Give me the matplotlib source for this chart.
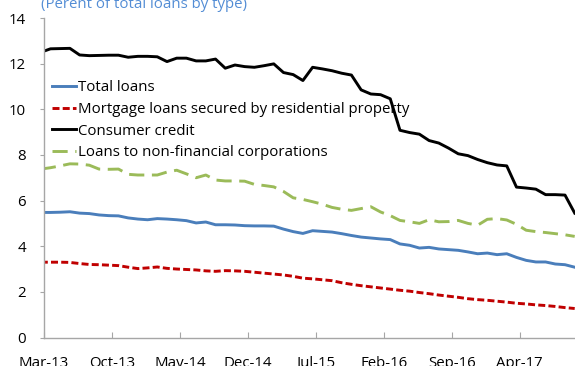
import numpy as np
import matplotlib
matplotlib.use("Agg")
import matplotlib.pyplot as plt

plt.rcParams['font.family'] = ['Open Sans', 'DejaVu Sans']

# Monthly observations, Feb-13 .. Sep-17 (first one lies just left of the axis)
months = [f"{m}-{y:02d}" for y in range(13, 18) for m in
          ["Jan", "Feb", "Mar", "Apr", "May", "Jun", "Jul", "Aug", "Sep", "Oct", "Nov", "Dec"]][1:57]

total_loans = [5.48, 5.48, 5.49, 5.51, 5.45, 5.43, 5.37, 5.34, 5.33, 5.24, 5.19, 5.16, 5.21, 5.19,
               5.16, 5.12, 5.02, 5.06, 4.94, 4.94, 4.93, 4.90, 4.89, 4.89, 4.88, 4.75, 4.64, 4.56,
               4.68, 4.65, 4.62, 4.55, 4.47, 4.40, 4.36, 4.32, 4.29, 4.10, 4.04, 3.92, 3.95, 3.88,
               3.85, 3.82, 3.75, 3.67, 3.70, 3.63, 3.67, 3.51, 3.38, 3.31, 3.31, 3.22, 3.19, 3.08]
mortgage = [3.30, 3.30, 3.30, 3.29, 3.24, 3.20, 3.19, 3.17, 3.15, 3.08, 3.02, 3.05, 3.09, 3.03,
            3.00, 2.98, 2.96, 2.92, 2.90, 2.93, 2.92, 2.90, 2.86, 2.82, 2.78, 2.74, 2.68, 2.60,
            2.57, 2.53, 2.49, 2.40, 2.33, 2.27, 2.22, 2.17, 2.12, 2.07, 2.03, 1.97, 1.92, 1.86,
            1.81, 1.76, 1.70, 1.66, 1.63, 1.59, 1.55, 1.50, 1.47, 1.43, 1.40, 1.36, 1.31, 1.27]
consumer = [12.50, 12.65, 12.66, 12.67, 12.38, 12.35, 12.36, 12.37, 12.37, 12.28, 12.32, 12.32,
            12.30, 12.09, 12.24, 12.24, 12.12, 12.12, 12.20, 11.80, 11.94, 11.87, 11.84, 11.91,
            11.99, 11.61, 11.52, 11.26, 11.84, 11.77, 11.69, 11.58, 11.50, 10.85, 10.67, 10.64,
            10.46, 9.08, 8.98, 8.91, 8.63, 8.52, 8.30, 8.05, 7.97, 7.80, 7.66, 7.56, 7.52, 6.59,
            6.55, 6.50, 6.26, 6.26, 6.24, 5.45]
nfc = [7.38, 7.44, 7.52, 7.61, 7.60, 7.55, 7.38, 7.37, 7.38, 7.15, 7.12, 7.12, 7.12, 7.25, 7.33,
       7.17, 7.00, 7.12, 6.90, 6.86, 6.86, 6.85, 6.71, 6.66, 6.60, 6.40, 6.12, 6.05, 5.95, 5.84,
       5.70, 5.62, 5.57, 5.65, 5.73, 5.50, 5.34, 5.13, 5.07, 5.00, 5.16, 5.07, 5.08, 5.13, 5.00,
       4.92, 5.18, 5.21, 5.15, 4.96, 4.70, 4.64, 4.60, 4.55, 4.50, 4.43]

tick_labels = ["Mar-13", "Oct-13", "May-14", "Dec-14", "Jul-15", "Feb-16", "Sep-16", "Apr-17"]
title = "(Perent of total loans by type)"

# x position in months from Mar-13 (observations sit ~2/3 month after the month tick)
x = np.arange(len(months)) - 1 + 0.67
tick_pos = [months.index(t) - 1 for t in tick_labels]

fig = plt.figure(figsize=(5.75, 3.66), dpi=100)
ax = fig.add_axes([44 / 575, (366 - 337.5) / 366, 1 - 44 / 575, (337.5 - 18) / 366])

ax.plot(x, total_loans, color='#4A7EBB', lw=2.1, label='Total loans')
ax.plot(x, mortgage, color='#C00000', lw=2.1, dashes=(2.4, 1.1),
        label='Mortgage loans secured by residential property')
ax.plot(x, consumer, color='black', lw=2.1, label='Consumer credit')
ax.plot(x, nfc, color='#9BBB59', lw=2.1, dashes=(5.2, 2.6),
        label='Loans to non-financial corporations')

ax.set_ylim(0, 14)
ax.set_xlim(0, 54.7)
ax.set_yticks(range(0, 15, 2))
ax.set_xticks(tick_pos)
ax.set_xticklabels(tick_labels)

for s in ['top', 'right']:
    ax.spines[s].set_visible(False)
for s in ['left', 'bottom']:
    ax.spines[s].set_color('#A6A6A6')
    ax.spines[s].set_linewidth(1.0)

ax.tick_params(axis='y', direction='out', length=3, width=0.8, color='#A6A6A6',
               labelsize=10.8, pad=10, labelcolor='black')
ax.tick_params(axis='x', direction='in', length=4, width=0.8, color='#A6A6A6',
               labelsize=10.8, pad=13, labelcolor='black')

leg = ax.legend(loc='upper left', bbox_to_anchor=(0.0, 0.829), frameon=False, fontsize=10.8,
                handlelength=1.65, handletextpad=0.1, labelspacing=0.45, borderaxespad=0.3,
                borderpad=0.2)

fig.text(41 / 575, 1 - 8.5 / 366, title, color='#538DD5', fontsize=10.8, va='baseline', ha='left')

fig.savefig('out.png', dpi=100)
